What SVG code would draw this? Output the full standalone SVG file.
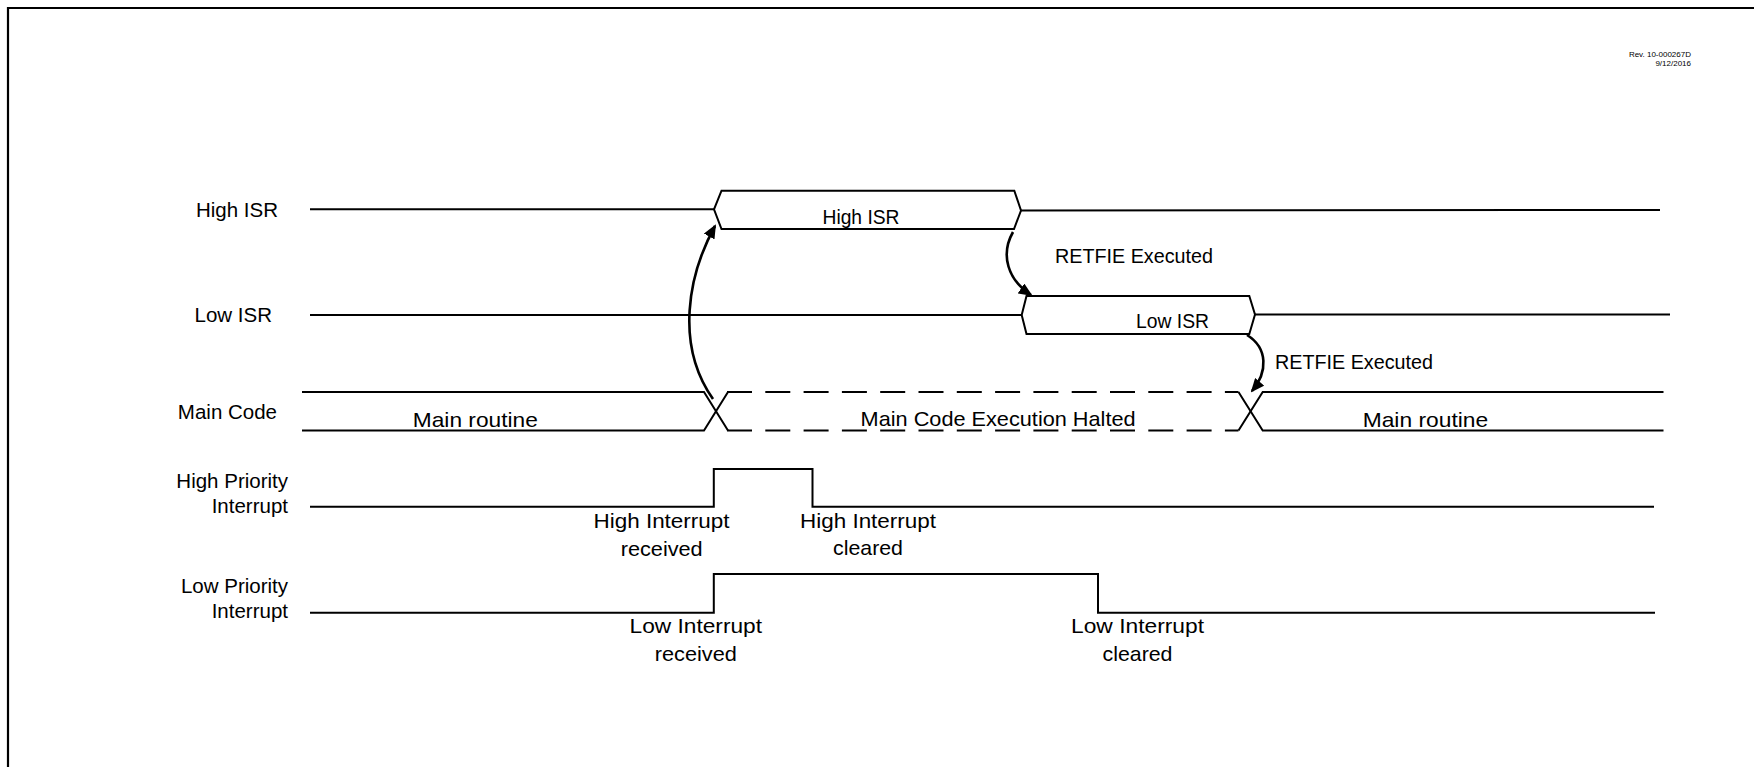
<svg xmlns="http://www.w3.org/2000/svg" width="1754" height="767" viewBox="0 0 1754 767">
<style>
.sig{fill:none;stroke:#000;stroke-width:2}
.dash{fill:none;stroke:#000;stroke-width:2;stroke-dasharray:25 13.3}
.arr{fill:none;stroke:#000;stroke-width:2.6}
.lbl{font-family:"Liberation Sans",Arial,sans-serif;font-size:20.5px;fill:#000}
.cal{font-family:"Liberation Sans",Arial,sans-serif;font-size:21px;fill:#000}
.rev{font-family:"Liberation Sans",Arial,sans-serif;font-size:8px;fill:#000;text-anchor:end}
</style>
<defs>
<marker id="ah" markerWidth="14" markerHeight="12" refX="12" refY="6" orient="auto" markerUnits="userSpaceOnUse">
<path d="M0,0 L14,6 L0,12 Z" fill="#000"/>
</marker>
</defs>
<rect width="1754" height="767" fill="#fff"/>
<path d="M8 767 V8 H1754" fill="none" stroke="#000" stroke-width="2.2"/>
<text class="rev" x="1691" y="57">Rev. 10-000267D</text>
<text class="rev" x="1691" y="66">9/12/2016</text>

<g id="label-high-isr"><text class="lbl" x="278" y="217" text-anchor="end">High ISR</text></g>
<g id="label-low-isr"><text class="lbl" x="272" y="322" text-anchor="end">Low ISR</text></g>
<g id="label-main-code"><text class="lbl" x="277" y="419" text-anchor="end">Main Code</text></g>
<g id="label-high-priority"><text class="lbl" x="288" y="488" text-anchor="end">High Priority</text><text class="lbl" x="288" y="513" text-anchor="end">Interrupt</text></g>
<g id="label-low-priority"><text class="lbl" x="288" y="593" text-anchor="end">Low Priority</text><text class="lbl" x="288" y="618" text-anchor="end">Interrupt</text></g>

<g id="high-isr">
<path class="sig" d="M310 209.3 H714"/>
<path class="sig" d="M714 209.3 L721.5 190.7 H1014.3 L1021 210.5 L1014 229 H721.5 Z"/>
<path class="sig" d="M1021 210.5 L1660 210"/>
<text class="cal" x="822.5" y="224.3" textLength="77" lengthAdjust="spacingAndGlyphs">High ISR</text>
</g>

<g id="low-isr">
<path class="sig" d="M310 315 H1021.7"/>
<path class="sig" d="M1021.7 315 L1026.5 296 H1249.3 L1255 314.5 L1249.3 334 H1026.5 Z"/>
<path class="sig" d="M1255 314.5 H1670"/>
<text class="cal" x="1136" y="328.3" textLength="73" lengthAdjust="spacingAndGlyphs">Low ISR</text>
</g>

<g id="main-code">
<path class="sig" d="M302 392 H704 L728 430.5"/>
<path class="sig" d="M302 430.5 H704 L728 392"/>
<path class="dash" d="M727 392 H1238.5"/>
<path class="dash" d="M727 430.5 H1238.5"/>
<path class="sig" d="M1238.5 392 L1262.7 430.5 H1663.5"/>
<path class="sig" d="M1238.5 430.5 L1262.7 392 H1663.5"/>
<text class="cal" x="412.8" y="426.7" textLength="125" lengthAdjust="spacingAndGlyphs">Main routine</text>
<text class="cal" x="860.6" y="425.7" textLength="275" lengthAdjust="spacingAndGlyphs">Main Code Execution Halted</text>
<text class="cal" x="1362.7" y="426.7" textLength="125.5" lengthAdjust="spacingAndGlyphs">Main routine</text>
</g>

<g id="high-priority-interrupt">
<path class="sig" d="M310 506.7 H713.8 V469 H812.5 V506.7 H1654"/>
<text class="cal" x="661.5" y="527.7" text-anchor="middle" textLength="136" lengthAdjust="spacingAndGlyphs">High Interrupt</text>
<text class="cal" x="661.7" y="556" text-anchor="middle" textLength="82" lengthAdjust="spacingAndGlyphs">received</text>
<text class="cal" x="868" y="527.7" text-anchor="middle" textLength="136" lengthAdjust="spacingAndGlyphs">High Interrupt</text>
<text class="cal" x="868" y="555.3" text-anchor="middle" textLength="70" lengthAdjust="spacingAndGlyphs">cleared</text>
</g>

<g id="low-priority-interrupt">
<path class="sig" d="M310 612.7 H713.8 V574 H1098 V612.7 H1655"/>
<text class="cal" x="695.8" y="633.3" text-anchor="middle" textLength="132.5" lengthAdjust="spacingAndGlyphs">Low Interrupt</text>
<text class="cal" x="695.8" y="661" text-anchor="middle" textLength="82" lengthAdjust="spacingAndGlyphs">received</text>
<text class="cal" x="1137.5" y="633.3" text-anchor="middle" textLength="133" lengthAdjust="spacingAndGlyphs">Low Interrupt</text>
<text class="cal" x="1137.5" y="661" text-anchor="middle" textLength="70" lengthAdjust="spacingAndGlyphs">cleared</text>
</g>

<g id="connectors">
<path class="arr" d="M713 399 C675 345 688 275 715 226" marker-end="url(#ah)"/>
<text class="cal" x="1055" y="263" textLength="158" lengthAdjust="spacingAndGlyphs">RETFIE Executed</text>
<path class="arr" d="M1013 232 C1000 255 1008 280 1031 295" marker-end="url(#ah)"/>
<text class="cal" x="1275" y="369" textLength="158" lengthAdjust="spacingAndGlyphs">RETFIE Executed</text>
<path class="arr" d="M1247 335 C1268 348 1268 372 1252 391" marker-end="url(#ah)"/>
</g>
</svg>
